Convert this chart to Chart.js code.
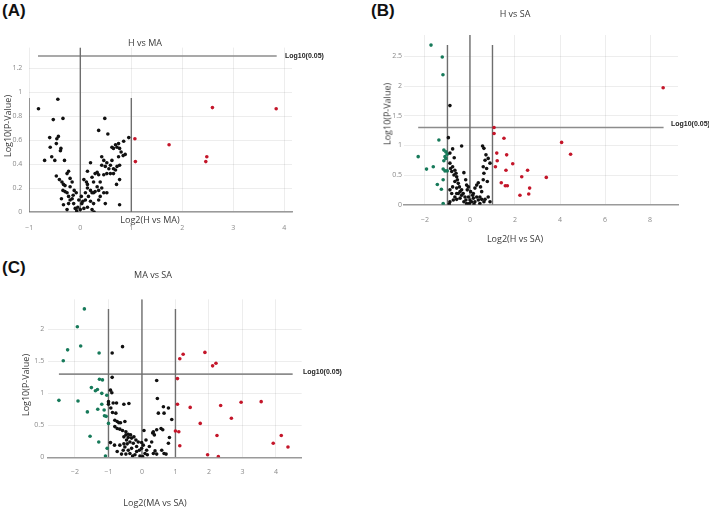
<!DOCTYPE html>
<html>
<head>
<meta charset="utf-8">
<script src="https://cdn.jsdelivr.net/npm/chart.js@4"></script>
<style>
  body { margin: 0; background: #fff; width: 709px; height: 508px; overflow: hidden; position: relative; }
  canvas { position: absolute; }
  .t { position: absolute; font-family: 'Open Sans', sans-serif; font-size: 9px; color: #3a3a3a; white-space: nowrap; transform: translate(-50%, -50%); }
  .yt { transform: translate(-50%, -50%) rotate(-90deg); }
  .cut { position: absolute; font-family: 'Liberation Sans', Arial, sans-serif; font-size: 7px; font-weight: 700; color: #222; white-space: nowrap; transform: translateY(-50%); }
  .lbl { position: absolute; font-family: 'Liberation Sans', Arial, sans-serif; font-size: 17px; font-weight: 700; color: #111; }
</style>
</head>
<body>
<div class="lbl" style="left:2px;top:1px">(A)</div>
<div class="lbl" style="left:371px;top:1px">(B)</div>
<div class="lbl" style="left:2px;top:258px">(C)</div>

<canvas id="chartA" width="300" height="240" style="left:0;top:0"></canvas>
<canvas id="chartB" width="349" height="250" style="left:360px;top:0"></canvas>
<canvas id="chartC" width="420" height="253" style="left:0;top:255px"></canvas>

<div class="t" style="left:145px;top:42px">H vs MA</div>
<div class="t yt" style="left:7px;top:126px">Log10(P-Value)</div>
<div class="t" style="left:150px;top:219px">Log2(H vs MA)</div>
<div class="cut" style="left:285px;top:55px">Log10(0.05)</div>

<div class="t" style="left:515px;top:13px">H vs SA</div>
<div class="t yt" style="left:387px;top:114px">Log10(P-Value)</div>
<div class="t" style="left:515px;top:238px">Log2(H vs SA)</div>
<div class="cut" style="left:671px;top:123px">Log10(0.05)</div>

<div class="t" style="left:153px;top:274px">MA vs SA</div>
<div class="t yt" style="left:25px;top:385px">Log10(P-Value)</div>
<div class="t" style="left:155px;top:502px">Log2(MA vs SA)</div>
<div class="cut" style="left:303px;top:371px">Log10(0.05)</div>

<script>
const P_CUT = 1.3;

// ---- (A) H vs MA ----
const A_BLACK = [
  [-0.82,0.86],[-0.44,0.94],[-0.53,0.77],[-0.34,0.78],[-0.60,0.62],[-0.46,0.61],[-0.43,0.63],[-0.47,0.57],
  [-0.59,0.54],[-0.38,0.53],[-0.39,0.51],[-0.70,0.43],[-0.56,0.46],[-0.50,0.43],[-0.31,0.43],[-0.47,0.30],
  [-0.41,0.27],[-0.36,0.25],[-0.33,0.23],[-0.30,0.22],[-0.37,0.11],[-0.33,0.06],[-0.23,0.07],[-0.26,0.16],
  [-0.20,0.21],[-0.23,0.34],[-0.26,0.32],[-0.20,0.28],[-0.16,0.25],[-0.30,0.17],[-0.34,0.18],[-0.23,0.13],
  [-0.16,0.11],[-0.13,0.07],[-0.26,0.02],[-0.10,0.03],[-0.07,0.01],[-0.05,0.04],[0.00,0.02],[-0.14,0.14],
  [-0.12,0.18],[-0.20,0.10],[-0.03,0.10],[-0.08,0.16],[0.03,0.07],
  [0.07,0.27],[0.12,0.25],[0.14,0.23],[0.20,0.18],[0.23,0.16],[0.16,0.13],[0.10,0.10],[0.05,0.09],
  [0.20,0.09],[0.26,0.07],[0.14,0.04],[0.23,0.02],[0.07,0.03],[0.27,0.00],[0.02,0.13],[0.10,0.16],
  [0.14,0.20],[0.20,0.41],[0.14,0.34],[0.23,0.29],[0.29,0.32],[0.33,0.33],[0.36,0.31],[0.26,0.25],
  [0.33,0.21],[0.39,0.25],[0.29,0.17],[0.36,0.18],[0.42,0.20],[0.46,0.16],[0.52,0.16],[0.39,0.13],
  [0.49,0.07],[0.36,0.68],[0.48,0.78],[0.54,0.65],[0.42,0.46],[0.46,0.43],[0.42,0.39],[0.49,0.38],
  [0.52,0.41],[0.56,0.36],[0.59,0.39],[0.62,0.43],[0.62,0.54],[0.65,0.53],[0.69,0.56],[0.72,0.54],
  [0.75,0.57],[0.77,0.53],[0.80,0.50],[0.84,0.47],[0.88,0.48],[0.85,0.59],[0.95,0.62],[0.77,0.39],
  [0.75,0.46],[0.69,0.35],[0.59,0.32],[0.65,0.32],[0.52,0.32],[0.46,0.31],[0.65,0.36],[0.72,0.38],
  [0.71,0.23],[0.77,0.27],[0.77,0.06],[0.26,0.16],[0.36,0.10]
];
const A_RED = [[1.07,0.61],[1.08,0.42],[1.74,0.56],[2.46,0.42],[2.48,0.46],[2.59,0.87],[3.84,0.86]];
const A_GREEN = [];
const A_VLINE_X = [-1, 0, 1];
const A_VLINE_TOP = [0.95, 1.37, 0.95];
const A_HLINE_X = [-0.83, 3.85];

// ---- (B) H vs SA ----
const B_BLACK = [
  [-0.89,1.67],[-0.96,1.13],[-0.37,0.99],[-0.77,0.94],[-0.89,0.87],[-0.70,0.79],[-0.89,0.70],[-0.77,0.64],
  [-0.67,0.58],[-0.62,0.53],[-0.59,0.47],[-0.56,0.42],[-0.67,0.39],[-0.52,0.36],[-0.47,0.30],[-0.37,0.25],
  [-0.30,0.19],[-0.27,0.54],[-0.19,0.42],[-0.15,0.33],[-0.12,0.25],[-0.22,0.13],[-0.44,0.11],[-0.59,0.09],
  [-0.74,0.08],[-0.89,0.05],[-0.92,0.01],[-0.67,0.13],[-0.81,0.19],[-0.89,0.25],[-0.77,0.30],[-0.07,0.13],
  [0.00,0.08],[0.07,0.05],[-0.03,0.02],[0.15,0.11],[0.22,0.05],[0.30,0.13],[0.37,0.08],[0.44,0.13],
  [-0.18,0.08],[-0.27,0.05],[0.15,0.19],[0.22,0.28],[0.30,0.33],[0.37,0.37],[0.47,0.30],[0.52,0.22],
  [0.59,0.42],[0.62,0.53],[0.59,0.64],[0.67,0.75],[0.71,0.84],[0.62,0.95],[0.56,0.99],[0.81,0.78],
  [0.89,0.70],[0.74,0.61],[0.77,0.39],[0.81,0.13],[0.89,0.05],[0.44,0.02],[0.67,0.09],[0.12,0.16],
  [0.03,0.22],[-0.07,0.30],[-0.52,0.19],[-0.44,0.22],[-0.59,0.28],[-0.37,0.16],[-0.71,0.50],[-0.81,0.56],
  [-0.86,0.61],[-0.59,0.19],[-0.15,0.02],[0.18,0.01],[0.52,0.09],[0.62,0.05]
];
const B_RED = [
  [1.07,1.30],[1.07,1.20],[1.51,1.12],[1.19,0.87],[1.21,0.74],[1.13,0.64],[1.63,0.84],[1.90,0.69],
  [1.60,0.58],[1.39,0.37],[1.57,0.32],[1.66,0.32],[2.30,0.47],[2.56,0.58],[2.65,0.28],[2.22,0.16],
  [2.61,0.18],[3.39,0.46],[4.07,1.05],[4.47,0.85],[8.58,1.97]
];
const B_GREEN = [
  [-1.73,2.69],[-1.23,2.49],[-1.20,2.19],[-1.38,1.09],[-2.30,0.81],[-1.93,0.60],[-1.63,0.64],[-1.45,0.34],
  [-1.27,0.26],[-1.19,0.02],[-1.19,0.42],[-1.19,0.60],[-1.16,0.74],[-1.11,0.57],[-1.01,0.57],[-1.16,0.92],
  [-1.07,0.89],[-1.01,0.85],[-1.07,0.78],[-1.11,0.81]
];
const B_VLINE_X = [-1, 0, 1];
const B_VLINE_TOP = [2.69, 2.86, 2.69];
const B_HLINE_X = [-2.3, 8.6];

// ---- (C) MA vs SA ----
const C_BLACK = [
  [-0.89,1.63],[-0.58,1.73],[-0.89,1.25],[-0.94,1.05],[-0.90,1.01],[0.44,1.20],[0.46,0.92],[-1.00,0.87],
  [-1.00,0.83],[-0.86,0.85],[-0.76,0.85],[-0.54,0.83],[-0.39,0.84],[-0.93,0.77],[-0.88,0.70],[-0.78,0.69],
  [-0.81,0.58],[-0.74,0.56],[-0.69,0.54],[-0.64,0.54],[-0.51,0.56],[-0.81,0.48],[-0.74,0.45],[-0.66,0.44],
  [-0.58,0.42],[-0.48,0.40],[-0.41,0.36],[-0.48,0.35],[-0.34,0.35],[-0.54,0.32],[-0.41,0.31],[-0.31,0.30],
  [-0.46,0.27],[-0.36,0.24],[-0.94,0.23],[-0.82,0.19],[-0.66,0.19],[-0.54,0.21],[-0.44,0.21],[-0.26,0.22],
  [-0.74,0.09],[-0.56,0.11],[-0.61,0.05],[-0.48,0.05],[-0.36,0.06],[-0.28,0.02],[-0.21,0.04],[-0.16,0.17],
  [-0.16,0.09],[-0.08,0.11],[-0.01,0.14],[0.04,0.19],[0.06,0.42],[0.12,0.27],[0.14,0.11],[0.22,0.17],
  [0.16,0.04],[0.29,0.24],[0.32,0.38],[0.34,0.40],[0.37,0.35],[0.44,0.43],[0.49,0.69],[0.57,0.45],
  [0.62,0.43],[0.64,0.79],[0.66,0.69],[0.79,0.77],[0.89,0.59],[0.82,0.31],[0.79,0.22],[0.59,0.11],
  [0.66,0.06],[0.72,0.05],[0.39,0.10],[0.44,0.05],[0.34,0.06],[-0.06,0.02],[0.02,0.01],[0.09,0.06],
  [-0.24,0.32],[-0.18,0.27],[-0.31,0.14],[-0.41,0.11],[-0.51,0.16],[-0.11,0.24],[-0.01,0.23]
];
const C_RED = [
  [1.23,1.61],[1.13,1.54],[1.88,1.64],[2.21,1.47],[2.11,1.43],[1.06,1.23],[1.06,0.83],[1.44,0.78],
  [2.35,0.81],[2.96,0.86],[3.56,0.87],[2.67,0.61],[1.74,0.53],[1.00,0.41],[1.10,0.40],[2.24,0.34],
  [1.13,0.18],[1.96,0.04],[2.28,0.01],[3.92,0.22],[4.16,0.34],[4.36,0.16]
];
const C_GREEN = [
  [-1.72,2.32],[-1.93,2.04],[-1.83,1.74],[-2.22,1.68],[-2.35,1.51],[-1.28,1.63],[-2.48,0.89],[-1.91,0.88],
  [-1.63,0.71],[-1.51,1.09],[-1.39,1.04],[-1.33,1.06],[-1.27,1.22],[-1.18,1.21],[-1.20,1.00],[-1.05,0.97],
  [-1.20,0.83],[-1.32,0.75],[-1.13,0.74],[-1.12,0.65],[-1.07,0.64],[-1.00,0.53],[-1.55,0.33],[-1.29,0.24],
  [-1.04,0.14],[-1.09,0.02]
];
const C_VLINE_X = [-1, 0, 1];
const C_VLINE_TOP = [2.32, 2.47, 2.32];
const C_HLINE_X = [-2.48, 4.5];

const GRID = 'rgba(0,0,0,0.07)';
const fmt = v => { const s = String(+v.toFixed(2)); return v < 0 ? '\u2212' + s.slice(1) : s; };
// keep only the round ticks inside the axis range
const onStep = step => s => {
  const out = [];
  for (let k = Math.ceil(s.min / step - 1e-9); k * step <= s.max + 1e-9; k++) out.push({ value: +(k * step).toFixed(6) });
  s.ticks = out;
};
const pts = arr => arr.map(p => ({ x: p[0], y: p[1] }));

function buildPanel(id, o) {
  const lines = o.vx.map((x, i) => ({ type: 'line', data: [{ x, y: 0 }, { x, y: o.vtop[i] }], borderColor: '#6e6e6e', borderWidth: 1.4, pointRadius: 0, fill: false, order: 2 }));
  lines.push({ type: 'line', data: [{ x: o.hx[0], y: P_CUT }, { x: o.hx[1], y: P_CUT }], borderColor: '#8c8c8c', borderWidth: 1.6, pointRadius: 0, fill: false, order: 2 });
  const dot = (arr, c) => ({ data: pts(arr), backgroundColor: c, borderWidth: 0, pointRadius: 1.8, order: 1 });
  new Chart(document.getElementById(id), {
    type: 'scatter',
    data: { datasets: [...lines, dot(o.black, '#111111'), dot(o.red, '#c4162a'), dot(o.green, '#177a5a')] },
    options: {
      responsive: false, animation: false, events: [],
      layout: { padding: o.pad },
      plugins: { legend: { display: false }, tooltip: { enabled: false } },
      scales: {
        x: { type: 'linear', min: o.x[0], max: o.x[1], afterFit: s => { s.height = 20; }, afterBuildTicks: onStep(o.x[2]),
             grid: { color: GRID, drawTicks: false }, border: { display: true, color: '#9a9a9a', width: 1.5 },
             ticks: { padding: o.tpx, maxRotation: 0, autoSkip: false, color: '#8a8a8a', font: { family: 'Open Sans', size: 7 }, callback: fmt } },
        y: { min: 0, max: o.y[1], afterFit: s => { s.width = o.yw; }, afterBuildTicks: onStep(o.y[2]),
             grid: { color: GRID, drawTicks: false }, border: { display: false },
             ticks: { padding: o.tpy, color: '#8a8a8a', font: { family: 'Open Sans', size: 7 }, callback: fmt } }
      }
    }
  });
}

buildPanel('chartA', { black: A_BLACK, red: A_RED, green: A_GREEN, vx: A_VLINE_X, vtop: A_VLINE_TOP, hx: A_HLINE_X,
  x: [-1, 4.15, 1], y: [0, 1.37, 0.2], yw: 29.3, tpx: 12, tpy: 7, pad: { left: 0, right: 8, top: 47.6, bottom: 8 } });
buildPanel('chartB', { black: B_BLACK, red: B_RED, green: B_GREEN, vx: B_VLINE_X, vtop: B_VLINE_TOP, hx: B_HLINE_X,
  x: [-2.93, 9.24, 2], y: [0, 2.86, 0.5], yw: 44, tpx: 11, tpy: 2, pad: { left: 0, right: 31, top: 35, bottom: 25.3 } });
buildPanel('chartC', { black: C_BLACK, red: C_RED, green: C_GREEN, vx: C_VLINE_X, vtop: C_VLINE_TOP, hx: C_HLINE_X,
  x: [-2.8, 4.77, 1], y: [0, 2.47, 0.5], yw: 48.2, tpx: 10, tpy: 4, pad: { left: 0, right: 118.3, top: 44.3, bottom: 30.7 } });
</script>
</body>
</html>
